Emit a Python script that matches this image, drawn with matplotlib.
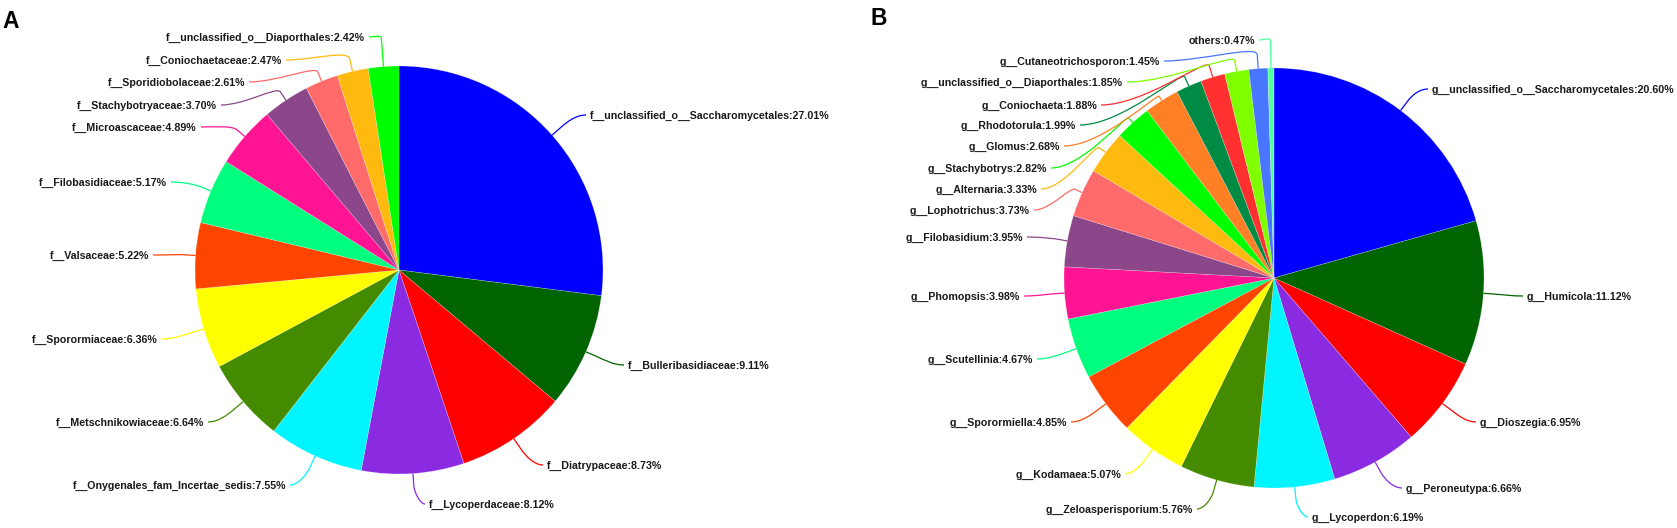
import matplotlib
matplotlib.use("Agg")
import matplotlib.pyplot as plt
from matplotlib.path import Path
from matplotlib.patches import PathPatch
import numpy as np

W, H = 1677, 528

# ---------------- data ----------------
a_names = ["f__unclassified_o__Saccharomycetales", "f__Bulleribasidiaceae", "f__Diatrypaceae",
           "f__Lycoperdaceae", "f__Onygenales_fam_Incertae_sedis", "f__Metschnikowiaceae",
           "f__Sporormiaceae", "f__Valsaceae", "f__Filobasidiaceae", "f__Microascaceae",
           "f__Stachybotryaceae", "f__Sporidiobolaceae", "f__Coniochaetaceae",
           "f__unclassified_o__Diaporthales"]
a_values = [27.01, 9.11, 8.73, 8.12, 7.55, 6.64, 6.36, 5.22, 5.17, 4.89, 3.70, 2.61, 2.47, 2.42]

b_names = ["g__unclassified_o__Saccharomycetales", "g__Humicola", "g__Dioszegia", "g__Peroneutypa",
           "g__Lycoperdon", "g__Zeloasperisporium", "g__Kodamaea", "g__Sporormiella",
           "g__Scutellinia", "g__Phomopsis", "g__Filobasidium", "g__Lophotrichus",
           "g__Alternaria", "g__Stachybotrys", "g__Glomus", "g__Rhodotorula", "g__Coniochaeta",
           "g__unclassified_o__Diaporthales", "g__Cutaneotrichosporon", "others"]
b_values = [20.60, 11.12, 6.95, 6.66, 6.19, 5.76, 5.07, 4.85, 4.67, 3.98, 3.95, 3.73,
            3.33, 2.82, 2.68, 1.99, 1.88, 1.85, 1.45, 0.47]

# ---------------- styles / layout ----------------
a_colors = ["#0000FF", "#006400", "#FF0000", "#8A2BE2", "#00F5FF", "#458B00", "#FFFF00",
            "#FF4500", "#00FF7F", "#FF1493", "#8B4789", "#FF6A6A", "#FFB90F", "#00FF00"]
b_colors = ["#0000FF", "#006400", "#FF0000", "#8A2BE2", "#00F5FF", "#458B00", "#FFFF00",
            "#FF4500", "#00FF7F", "#FF1493", "#8B4789", "#FF6A6A", "#FFB90F", "#00FF00",
            "#FF7F24", "#008B45", "#FF3030", "#7FFF00", "#4876FF", "#54FF9F"]

# label anchor (pixel x of text edge nearest the pie, pixel y of text centre), side
a_lab = [(590, 116, 'r'), (628, 366, 'r'), (547, 466, 'r'), (429, 505, 'r'),
         (286, 486, 'l'), (204, 423, 'l'), (158, 340, 'l'), (149, 256, 'l'),
         (167, 183, 'l'), (197, 128, 'l'), (217, 106, 'l'), (245, 83, 'l'),
         (282, 61, 'l'), (365, 38, 'l')]
a_elb = [12, 12, 12, 12, 12, 12, 10, 10, 10, 10, 10, 10, 13, 28]

b_lab = [(1432, 90, 'r'), (1527, 297, 'r'), (1480, 423, 'r'), (1406, 489, 'r'),
         (1312, 518, 'r'), (1193, 510, 'l'), (1121, 475, 'l'), (1067, 423, 'l'),
         (1033, 360, 'l'), (1020, 297, 'l'), (1023, 238, 'l'), (1030, 211, 'l'),
         (1037, 190, 'l'), (1047, 169, 'l'), (1060, 147, 'l'), (1076, 126, 'l'),
         (1097, 106, 'l'), (1123, 83, 'l'), (1160, 62, 'l'), (1255, 41, 'l')]
b_elb = [12, 12, 12, 12, 12, 12, 10, 10, 10, 10, 8, 8, 8, 6, 5, 10, 12, 11, 14, 27]

FONT = "Liberation Sans"
FS = 7.65

fig = plt.figure(figsize=(W / 100, H / 100), dpi=100)
ax = fig.add_axes([0, 0, 1, 1])


def draw_pie(values, names, colors, center_px, radius, labels, elbows):
    cx, cy = center_px[0], H - center_px[1]
    wedges, _ = ax.pie(values, colors=colors, startangle=90, counterclock=False,
                       center=(cx, cy), radius=radius, frame=True,
                       wedgeprops=dict(linewidth=0.4, edgecolor=(1, 1, 1, 0.35)))
    for w, name, val, col, (lx, ly, side), e in zip(wedges, names, values, colors, labels, elbows):
        ang = np.deg2rad((w.theta1 + w.theta2) / 2.0)
        ux, uy = np.cos(ang), np.sin(ang)
        S = (cx + radius * ux, cy + radius * uy)
        E = (S[0] + e * ux, S[1] + e * uy)
        Y = H - ly
        sgn = 1 if side == 'l' else -1
        L = (lx + sgn * 4, Y + 1)
        d = np.hypot(E[0] - L[0], E[1] - L[1])
        k = 0.4 * abs(E[0] - L[0])
        k2 = min(0.35 * d, 0.7 * e)
        C1 = (L[0] + sgn * k, L[1])
        C2 = (E[0] + ux * k2, E[1] + uy * k2)
        path = Path([L, C1, C2, E, S],
                    [Path.MOVETO, Path.CURVE4, Path.CURVE4, Path.CURVE4, Path.LINETO])
        ax.add_patch(PathPatch(path, facecolor='none', edgecolor=col, lw=0.9, zorder=3))
        ax.text(lx, Y, f"{name}:{val:.2f}%", ha='right' if side == 'l' else 'left',
                va='center', fontsize=FS, fontweight='bold', family=FONT, color='#1a1a1a')


draw_pie(a_values, a_names, a_colors, (399, 270), 204, a_lab, a_elb)
draw_pie(b_values, b_names, b_colors, (1274, 278), 210, b_lab, b_elb)

ax.text(2, H - 10, "A", ha='left', va='top', fontsize=16.5, fontweight='bold', family=FONT)
ax.text(871, H - 7, "B", ha='left', va='top', fontsize=16.5, fontweight='bold', family=FONT)

ax.set_xlim(0, W)
ax.set_ylim(0, H)
ax.set_aspect('equal')
ax.axis('off')

fig.savefig("out.png", dpi=100, facecolor='white')
